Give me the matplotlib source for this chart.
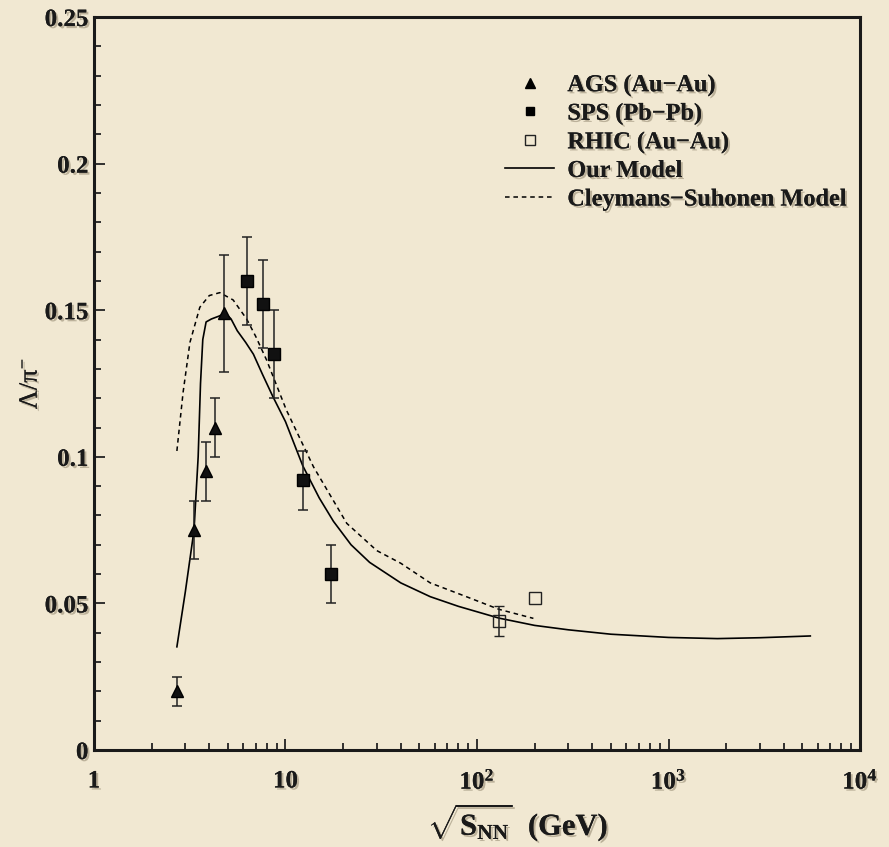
import matplotlib
matplotlib.use("Agg")
import matplotlib.pyplot as plt
import matplotlib.patheffects as pe
from matplotlib.ticker import MultipleLocator, LogLocator, FixedLocator, FixedFormatter, NullFormatter
from matplotlib.lines import Line2D

plt.rcParams["font.family"] = ["Liberation Serif", "DejaVu Serif"]
plt.rcParams["mathtext.fontset"] = "custom"
plt.rcParams["mathtext.rm"] = "Liberation Serif"
plt.rcParams["mathtext.bf"] = "Liberation Serif:bold"
plt.rcParams["mathtext.it"] = "Liberation Serif:italic"

# AGS (Au-Au)
ags_x = [2.71, 3.33, 3.83, 4.3, 4.8]
ags_y = [0.020, 0.075, 0.095, 0.110, 0.149]
ags_err = [0.005, 0.010, 0.010, 0.010, 0.020]

# SPS (Pb-Pb)
sps_x = [6.3, 7.6, 8.7, 12.3, 17.3]
sps_y = [0.160, 0.152, 0.135, 0.092, 0.060]
sps_err = [0.015, 0.015, 0.015, 0.010, 0.010]

# RHIC (Au-Au); second point has no error bar
rhic_x = [130, 200]
rhic_y = [0.044, 0.052]
rhic_err = [0.005, float("nan")]

# Our model
model_x = [2.71, 3.0, 3.33, 3.5, 3.6, 3.7, 3.85, 4.1, 4.5, 4.85, 5.2, 5.6, 6.2, 6.8,
           7.6, 8.6, 10, 12.3, 15, 17.8, 22, 27.5, 40, 57, 80, 130, 200, 300, 500,
           1000, 1800, 3000, 5500]
model_y = [0.0352, 0.054, 0.075, 0.100, 0.125, 0.140, 0.146, 0.147, 0.148, 0.149,
           0.147, 0.143, 0.139, 0.135, 0.128, 0.1205, 0.112, 0.097, 0.086, 0.078,
           0.070, 0.064, 0.057, 0.0523, 0.049, 0.045, 0.0425, 0.041, 0.0395,
           0.0384, 0.038, 0.0383, 0.0389]

# Cleymans-Suhonen model
cs_x = [2.71, 2.92, 3.17, 3.57, 4.0, 4.54, 5.33, 6.27, 7.0, 7.97, 10.1, 14, 20.9,
        30, 40, 57, 88, 130, 197]
cs_y = [0.102, 0.122, 0.139, 0.151, 0.155, 0.156, 0.1535, 0.147, 0.141, 0.133,
        0.116, 0.0966, 0.0773, 0.068, 0.0637, 0.057, 0.0523, 0.048, 0.0449]

xtick_vals = [1, 10, 100, 1000, 10000]
xtick_labels = ["1", "10", r"$\mathbf{10^{2}}$", r"$\mathbf{10^{3}}$", r"$\mathbf{10^{4}}$"]

bg = "#f1e8d2"
ink = "#1a1a1a"
shadow = [pe.withSimplePatchShadow(offset=(1.5, -1.5), shadow_rgbFace=(0.35, 0.3, 0.2), alpha=0.35), pe.Normal()]

fig = plt.figure(figsize=(8.89, 8.47), dpi=100)
fig.patch.set_facecolor(bg)
ax = fig.add_axes([0.1057, 0.1145, 0.8617, 0.8654])
ax.set_facecolor(bg)

ax.plot(model_x, model_y, color="black", lw=1.2, label="Our Model")
ax.plot(cs_x, cs_y, color="black", lw=1.1, ls=(0, (3, 2.5)), label="Cleymans\u2212Suhonen Model")

ax.errorbar(ags_x, ags_y, yerr=ags_err, fmt="^", ms=9, color="black", mfc="#111111",
            ecolor="#222222", elinewidth=1.1, capsize=3.5, capthick=1.1)
ax.errorbar(sps_x, sps_y, yerr=sps_err, fmt="s", ms=8, color="black", mfc="#111111",
            ecolor="#222222", elinewidth=1.1, capsize=3.5, capthick=1.1)
ax.errorbar(rhic_x, rhic_y, yerr=rhic_err, fmt="s", ms=8.5, color="#222222", mfc="none",
            mew=1.0, ecolor="#222222", elinewidth=1.1, capsize=3.5, capthick=1.1)

ax.set_xscale("log")
ax.set_xlim(1, 1e4)
ax.set_ylim(0, 0.25)

ax.xaxis.set_major_locator(FixedLocator(xtick_vals))
ax.xaxis.set_major_formatter(FixedFormatter(xtick_labels))
ax.xaxis.set_minor_locator(LogLocator(base=10, subs=range(2, 10)))
ax.xaxis.set_minor_formatter(NullFormatter())
ax.yaxis.set_minor_locator(MultipleLocator(0.01))
ax.set_yticks([0, 0.05, 0.1, 0.15, 0.2, 0.25])
ax.set_yticklabels(["0", "0.05", "0.1", "0.15", "0.2", "0.25"])

ax.tick_params(which="both", direction="in", top=False, right=False, width=1.3, color="#222222")
ax.tick_params(which="major", length=8)
ax.tick_params(which="minor", length=5)
ax.tick_params(axis="x", pad=14, labelsize=18)
ax.tick_params(axis="y", pad=4, labelsize=18)
for lab in ax.get_xticklabels() + ax.get_yticklabels():
    lab.set_fontweight("bold")
    lab.set_color(ink)
    lab.set_path_effects(shadow)

for sp in ax.spines.values():
    sp.set_linewidth(2.2)
    sp.set_color(ink)

ax.set_ylabel(r"$\mathrm{\Lambda/\pi}^{-}$", fontsize=19, color=ink, path_effects=shadow)
ax.yaxis.set_label_coords(-0.068, 0.5)
ax.set_xlabel(r"$\sqrt{\mathbf{S_{NN}}}$  (GeV)", fontsize=22, fontweight="bold",
              color=ink, path_effects=shadow)
ax.xaxis.set_label_coords(0.553, -0.072)

handles = [
    Line2D([], [], ls="none", marker="^", ms=7, color="black"),
    Line2D([], [], ls="none", marker="s", ms=6, color="black"),
    Line2D([], [], ls="none", marker="s", ms=6.5, mfc="none", mec="#222222", mew=1.0),
    Line2D([], [], color="black", lw=1.2),
    Line2D([], [], color="black", lw=1.1, ls=(0, (3, 2.5))),
]
labels = ["AGS (Au\u2212Au)", "SPS (Pb\u2212Pb)", "RHIC (Au\u2212Au)", "Our Model",
          "Cleymans\u2212Suhonen Model"]
leg = ax.legend(handles, labels, loc="upper left", bbox_to_anchor=(0.537, 0.922),
                frameon=False, fontsize=17.5, handlelength=2.0, handletextpad=0.55,
                labelspacing=0.27, borderpad=0, borderaxespad=0)
for t in leg.get_texts():
    t.set_fontweight("bold")
    t.set_color(ink)
    t.set_path_effects(shadow)

fig.savefig("out.png", dpi=100, facecolor=bg)
